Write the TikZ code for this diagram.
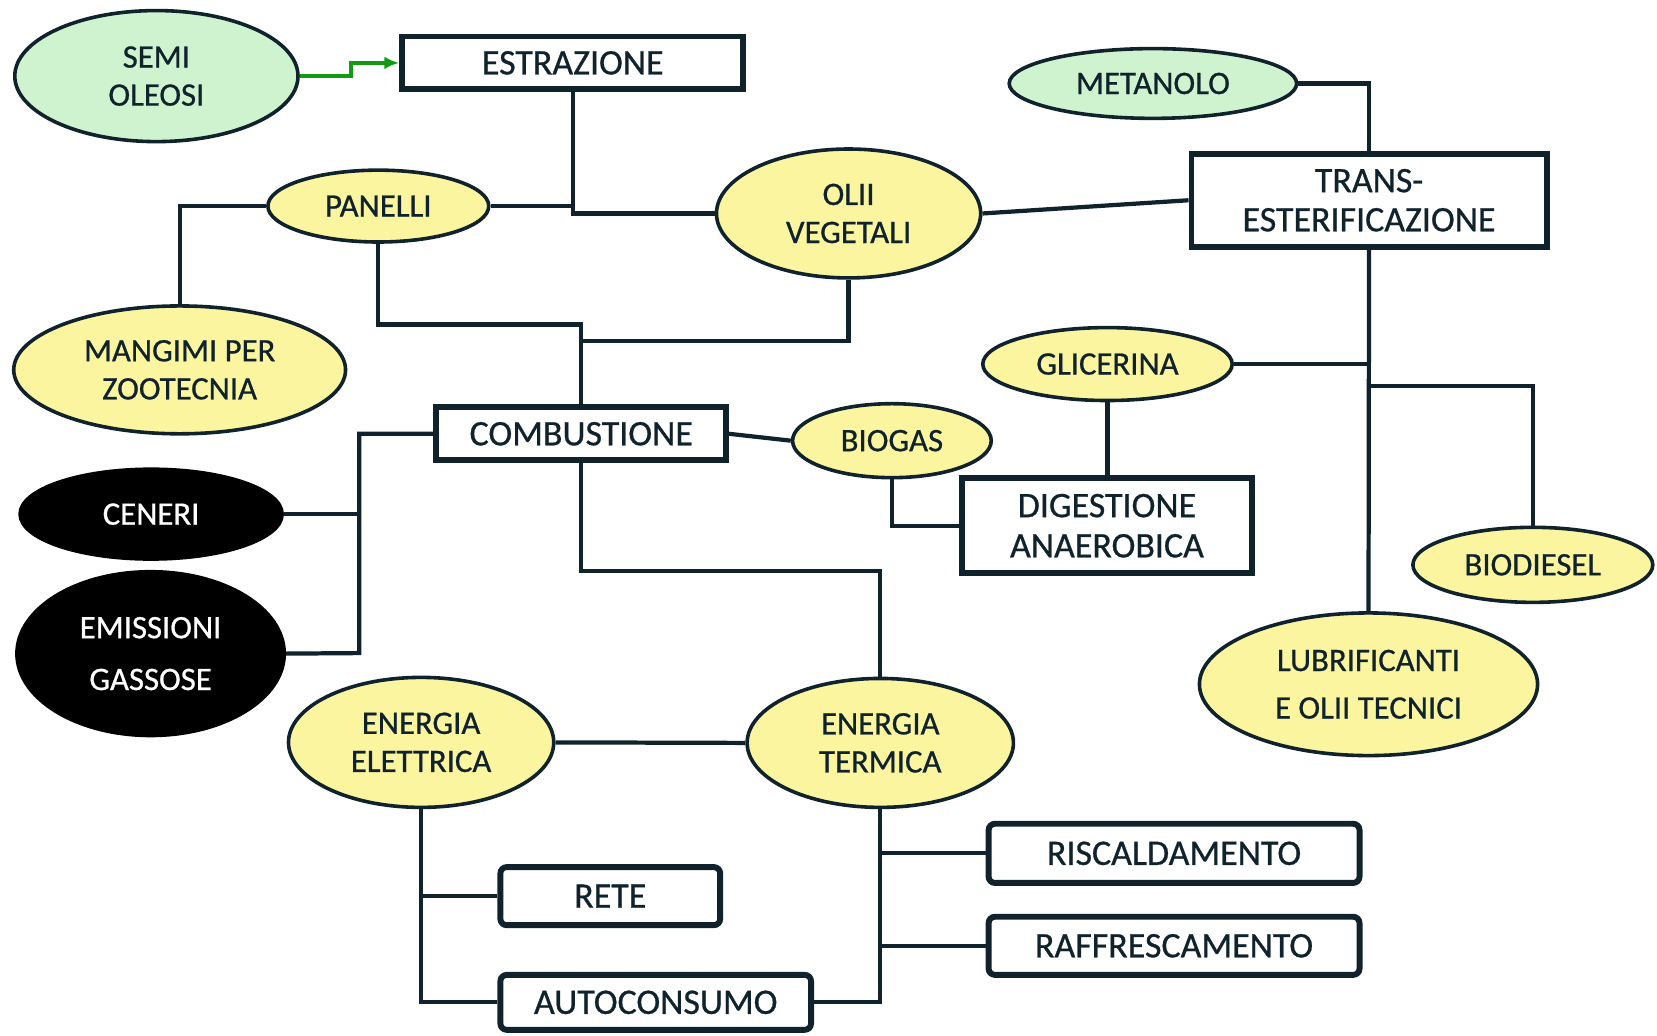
\documentclass[tikz,border=0pt]{standalone}
\usepackage{fontspec}
\setmainfont{Carlito}
\newfontfamily\lbl{Carlito}[FakeBold=0.7]
\usetikzlibrary{shapes.geometric,arrows.meta}
\definecolor{ink}{HTML}{10232D}
\definecolor{pale}{HTML}{FBF5A0}
\definecolor{mint}{HTML}{CFF3CF}
\definecolor{grn}{HTML}{139A13}
\begin{document}
\begin{tikzpicture}[x=0.5pt,y=-0.5pt,
  ell/.style={ellipse,draw=ink,line width=1.7pt,fill=pale,inner sep=0pt,text=ink,align=center,
    font=\lbl\fontsize{15.5}{18}\selectfont},
  mintell/.style={ell,fill=mint},
  blkell/.style={ell,fill=black,draw=black,text=white},
  sqbox/.style={rectangle,draw=ink,line width=2.8pt,fill=white,inner sep=0pt,text=ink,align=center,
    font=\lbl\fontsize{17}{19}\selectfont},
  rbox/.style={sqbox,rounded corners=3pt},
  conn/.style={draw=ink,line width=2pt},
]
\useasboundingbox (0,0) rectangle (1568,980);
% nodes
\node[mintell,minimum width=134pt,minimum height=62pt] (semi) at (148,72) {SEMI\\OLEOSI};
\node[sqbox,minimum width=161.5pt,minimum height=25pt] (estr) at (542,59.5) {ESTRAZIONE};
\node[mintell,minimum width=136pt,minimum height=33pt] (met) at (1091,79) {METANOLO};
\node[ell,minimum width=104.5pt,minimum height=34pt] (pan) at (358,195) {PANELLI};
\node[ell,minimum width=125pt,minimum height=61pt] (olii) at (803,202) {OLII\\VEGETALI};
\node[sqbox,minimum width=168pt,minimum height=44pt,font=\lbl\fontsize{17}{18.5}\selectfont] (trans) at (1295.5,189.5) {TRANS-\\ESTERIFICAZIONE};
\node[ell,minimum width=157pt,minimum height=60.5pt] (mang) at (170,350) {MANGIMI PER\\ZOOTECNIA};
\node[ell,minimum width=118pt,minimum height=34.5pt] (glic) at (1048,344.5) {GLICERINA};
\node[sqbox,minimum width=137pt,minimum height=25pt] (comb) at (550,410.5) {COMBUSTIONE};
\node[ell,minimum width=94pt,minimum height=35pt] (biog) at (844,417) {BIOGAS};
\node[blkell,minimum width=124pt,minimum height=42.5pt] (cen) at (143,486.5) {CENERI};
\node[blkell,minimum width=126.5pt,minimum height=77.5pt,font=\lbl\fontsize{15.5}{24.5}\selectfont] (emi) at (142.5,618.5) {EMISSIONI\\GASSOSE};
\node[sqbox,minimum width=137pt,minimum height=45pt] (dig) at (1047.5,497.5) {DIGESTIONE\\ANAEROBICA};
\node[ell,minimum width=113.5pt,minimum height=35.5pt] (bio) at (1450.5,534.5) {BIODIESEL};
\node[ell,minimum width=160pt,minimum height=67.5pt,font=\lbl\fontsize{15.5}{22.5}\selectfont] (lub) at (1295,647.5) {LUBRIFICANTI\\E OLII TECNICI};
\node[ell,minimum width=125.5pt,minimum height=61.5pt] (ee) at (398.5,702.5) {ENERGIA\\ELETTRICA};
\node[ell,minimum width=126pt,minimum height=61pt] (et) at (833,703) {ENERGIA\\TERMICA};
\node[rbox,minimum width=175.5pt,minimum height=28pt] (risc) at (1111,807.5) {RISCALDAMENTO};
\node[rbox,minimum width=175.5pt,minimum height=27.5pt] (raff) at (1111,895) {RAFFRESCAMENTO};
\node[rbox,minimum width=104pt,minimum height=27.5pt] (rete) at (577.5,848) {RETE};
\node[rbox,minimum width=147pt,minimum height=26pt] (auto) at (620.5,948.5) {AUTOCONSUMO};
% junction coordinates
\coordinate (jg) at (332,66);
\coordinate (je) at (542,202);
\coordinate (jc) at (550,307);
\coordinate (jo) at (550,323);
\coordinate (jl) at (340,618);
\coordinate (jb) at (1295,365);
\coordinate (jt) at (833,540);
% connectors
\draw[grn,line width=1.6pt,-{Latex[length=7pt,width=6pt]}] (semi.east) -| (jg) |- (estr.west);
\draw[conn] (estr.south) -- (je);
\draw[conn] (pan.east) -| (je) |- (olii.west);
\draw[conn] (pan.west) -| (mang.north);
\draw[conn] (pan.south) |- (jc) -- (comb.north);
\draw[conn] (olii.south) |- (jo);
\draw[conn] (comb.west) -| (jl) -- (emi.east);
\draw[conn] (cen.east) -- (cen.east -| jl);
\draw[conn] (comb.east) -- (biog.west);
\draw[conn] (biog.south) |- (dig.west);
\draw[conn] (glic.south) -- (glic.south |- dig.north);
\draw[conn] (met.east) -| (trans.north);
\draw[conn] (olii.east) -- (trans.west);
\draw[conn] (trans.south) -- (lub.north);
\draw[conn] (glic.east) -- (glic.east -| trans.south);
\draw[conn] (jb) -| (bio.north);
\draw[conn] (comb.south) |- (jt) -- (et.north);
\draw[conn] (ee.east) -- (et.west);
\draw[conn] (ee.south) |- (auto.west);
\draw[conn] (rete.west) -- (rete.west -| ee.south);
\draw[conn] (auto.east) -| (et.south);
\draw[conn] (risc.west) -- (risc.west -| et.south);
\draw[conn] (raff.west) -- (raff.west -| et.south);
\end{tikzpicture}
\end{document}
